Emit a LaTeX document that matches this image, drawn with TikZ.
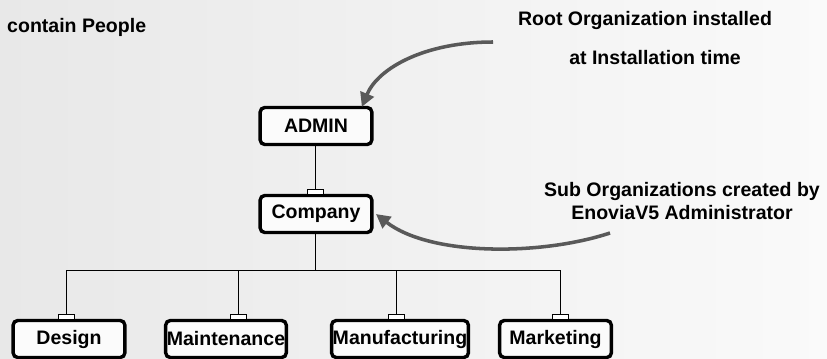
\documentclass[tikz,border=0pt]{standalone}
\usepackage{fontspec}
\setmainfont{Liberation Sans}
\usetikzlibrary{arrows.meta}
\newcommand{\PoliceOrg}{\fontsize{16.6}{19.5}\selectfont\bfseries}
\tikzset{
	orgbox/.style={draw=black,line width=2.9pt,rounded corners=4pt,fill=white!60!black!4,
		minimum width=95pt,minimum height=31.5pt,inner xsep=1pt,font=\PoliceOrg},
	tab/.style={draw=black,line width=0.5pt,fill=white,minimum width=13.5pt,minimum height=5pt,inner sep=0pt,anchor=south},
	wire/.style={line width=0.6pt},
	note/.style={font=\PoliceOrg,align=center,inner sep=0pt},
	pointer/.style={draw=black!65,line width=3pt,-{Triangle[length=12pt,width=12pt]}}
}
\begin{document}
\begin{tikzpicture}[x=0.85pt,y=-0.85pt]
	\useasboundingbox (0,0) rectangle (827,358);
	\shade[left color=black!9,right color=black!2] (0,0) rectangle (827,358);

	%Notes
	\node[note,anchor=west] (people) at (7,27) {contain People};
	\node[note] (root1) at (645,20) {Root Organization installed};
	\node[note] (root2) at (655,58) {at Installation time};
	\node[note] (sub) at (682,201) {Sub Organizations created by\\EnoviaV5 Administrator};

	%Boites
	\node[orgbox] (admin) at (316,126) {ADMIN};
	\node[orgbox] (company) at (316,214) {Company};
	\node[orgbox] (design) at (69,339) {Design};
	\node[orgbox] (maint) at (226,339) {Maintenance};
	\node[orgbox] (manuf) at (400,339) {Manufacturing};
	\node[orgbox] (market) at (555.5,339) {Marketing};

	%Onglets
	\node[tab] (tabCompany) at (315,195) {};
	\node[tab] (tabDesign) at (66,320) {};
	\node[tab] (tabMaint) at (238,320) {};
	\node[tab] (tabManuf) at (396,320) {};
	\node[tab] (tabMarket) at (560,320) {};

	%Liens
	\coordinate (bar) at (315,270);
	\draw[wire] (admin.south -| tabCompany) -- (tabCompany.north);
	\draw[wire] (company.south -| bar) -- (bar);
	\foreach \t in {tabDesign,tabMaint,tabManuf,tabMarket}{
		\draw[wire] (bar) -| (\t.north);
	}

	%Fleches
	\coordinate (rootStart) at (493,42);
	\coordinate (subStart) at (610,233);
	\draw[pointer] (rootStart) .. controls (425,42) and (378,68) .. ([xshift=-10pt,yshift=-1pt]admin.north east);
	\draw[pointer] (subStart) .. controls (540,256) and (430,256) .. ([xshift=2pt]company.east);
\end{tikzpicture}
\end{document}
